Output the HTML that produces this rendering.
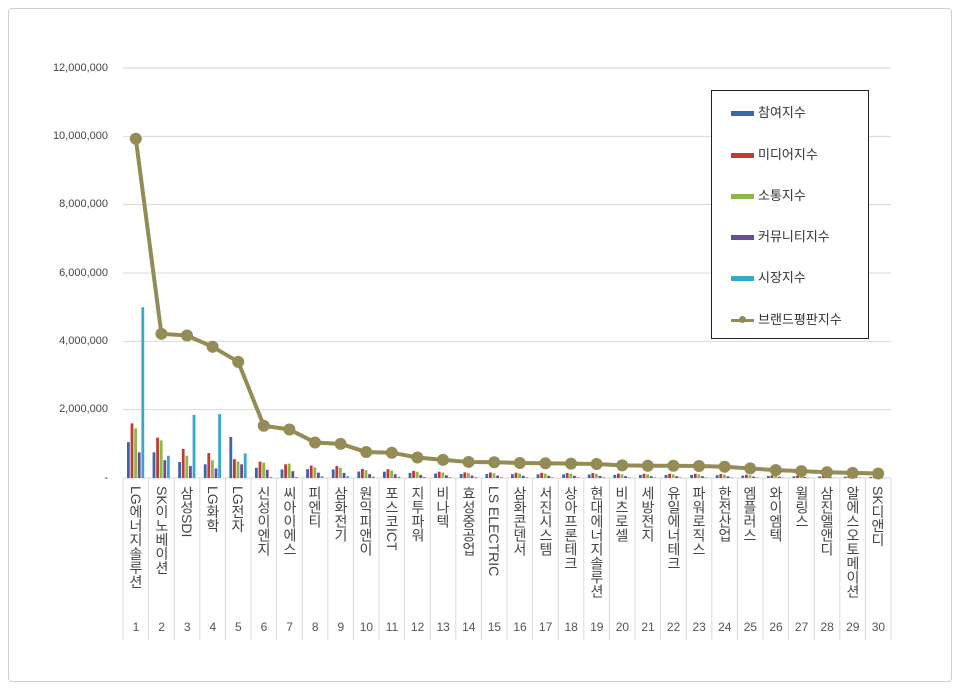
<!DOCTYPE html>
<html><head><meta charset="utf-8">
<style>
body{margin:0;background:#fff;width:960px;height:690px;overflow:hidden;font-family:"Liberation Sans","Noto Sans CJK KR",sans-serif;}
#frame{position:absolute;left:8px;top:8px;width:942px;height:672px;border:1px solid #d0d0d0;border-radius:4px;}
.yl{position:absolute;right:852px;font-size:11px;color:#444;text-align:right;}
.xl{position:absolute;top:486px;writing-mode:vertical-rl;text-orientation:mixed;font-size:14px;color:#444;width:26px;line-height:26px;white-space:nowrap;}
.xn{position:absolute;top:620px;width:26px;text-align:center;font-size:12px;color:#555;}
#leg{position:absolute;left:711px;top:90px;width:156px;height:247px;border:1px solid #222;background:#fff;}
.le{position:absolute;left:19px;font-size:13px;color:#333;}
.sw{display:inline-block;width:23px;height:5px;vertical-align:middle;margin-right:4px;}
.dot{position:absolute;left:8px;top:-3px;width:7px;height:7px;border-radius:50%;background:#948b55;}
</style></head><body>
<div id="frame"></div>
<svg id="g" width="960" height="690" style="position:absolute;left:0;top:0"></svg>
<div class="yl" style="top:62px">12,000,000</div>
<div class="yl" style="top:130px">10,000,000</div>
<div class="yl" style="top:198px">8,000,000</div>
<div class="yl" style="top:267px">6,000,000</div>
<div class="yl" style="top:335px">4,000,000</div>
<div class="yl" style="top:403px">2,000,000</div>
<div class="yl" style="top:472px">-</div>
<div class="xl" style="left:123px">LG에너지솔루션</div>
<div class="xl" style="left:149px">SK이노베이션</div>
<div class="xl" style="left:174px">삼성SDI</div>
<div class="xl" style="left:200px">LG화학</div>
<div class="xl" style="left:225px">LG전자</div>
<div class="xl" style="left:251px">신성이엔지</div>
<div class="xl" style="left:277px">씨아이에스</div>
<div class="xl" style="left:302px">피엔티</div>
<div class="xl" style="left:328px">삼화전기</div>
<div class="xl" style="left:353px">원익피앤이</div>
<div class="xl" style="left:379px">포스코ICT</div>
<div class="xl" style="left:405px">지투파워</div>
<div class="xl" style="left:430px">비나텍</div>
<div class="xl" style="left:456px">효성중공업</div>
<div class="xl" style="left:481px">LS ELECTRIC</div>
<div class="xl" style="left:507px">삼화콘덴서</div>
<div class="xl" style="left:533px">서진시스템</div>
<div class="xl" style="left:558px">상아프론테크</div>
<div class="xl" style="left:584px">현대에너지솔루션</div>
<div class="xl" style="left:609px">비츠로셀</div>
<div class="xl" style="left:635px">세방전지</div>
<div class="xl" style="left:661px">유일에너테크</div>
<div class="xl" style="left:686px">파워로직스</div>
<div class="xl" style="left:712px">한전산업</div>
<div class="xl" style="left:737px">엠플러스</div>
<div class="xl" style="left:763px">와이엠텍</div>
<div class="xl" style="left:789px">윌링스</div>
<div class="xl" style="left:814px">삼진엘앤디</div>
<div class="xl" style="left:840px">알에스오토메이션</div>
<div class="xl" style="left:865px">SK디앤디</div>
<div id="nums"></div>
<div id="leg">
<div class="le" style="top:11px"><span class="sw" style="background:#3a66b0"></span>참여지수</div>
<div class="le" style="top:53px"><span class="sw" style="background:#c03a36"></span>미디어지수</div>
<div class="le" style="top:94px"><span class="sw" style="background:#8eb648"></span>소통지수</div>
<div class="le" style="top:135px"><span class="sw" style="background:#6b4a9a"></span>커뮤니티지수</div>
<div class="le" style="top:176px"><span class="sw" style="background:#33aac8"></span>시장지수</div>
<div class="le" style="top:218px"><span class="sw" style="background:#948b55;height:3px;position:relative"><span class="dot"></span></span>브랜드평판지수</div>
</div>
<script>
var L=123,W=25.6,Y0=478,S=410/12e6;
var ns='http://www.w3.org/2000/svg',g=document.getElementById('g');
function el(t,a){var e=document.createElementNS(ns,t);for(var k in a)e.setAttribute(k,a[k]);g.appendChild(e);return e;}
for(var i=1;i<=6;i++){var y=Y0-i*2e6*S;el('line',{x1:L,x2:891,y1:y,y2:y,stroke:'#d9d9d9'});}
el('line',{x1:L,x2:891,y1:Y0,y2:Y0,stroke:'#d9d9d9'});
for(var i=0;i<=30;i++){var x=L+i*W;el('line',{x1:x,x2:x,y1:Y0,y2:640,stroke:'#d9d9d9'});}
var line=[9.93,4.22,4.17,3.84,3.4,1.53,1.42,1.04,1.0,0.76,0.74,0.6,0.53,0.47,0.46,0.44,0.43,0.42,0.41,0.37,0.36,0.36,0.35,0.33,0.28,0.23,0.2,0.17,0.15,0.13];
var bars=[[1.05,1.6,1.45,0.75,5.0],[0.75,1.18,1.1,0.52,0.65],[0.47,0.85,0.65,0.35,1.85],[0.4,0.73,0.52,0.28,1.87],[1.2,0.55,0.48,0.4,0.72],[0.3,0.48,0.45,0.24,0.03],[0.25,0.4,0.42,0.2,0.03]];
var cols=['#3a66b0','#c03a36','#8eb648','#6b4a9a','#33aac8'];
for(var c=0;c<30;c++){var b=bars[c];if(!b){var v=line[c];b=[v*0.25,v*0.35,v*0.3,v*0.15,v*0.05];}
for(var k=0;k<5;k++){var h=b[k]*1e6*S;el('rect',{x:L+c*W+4+k*3.6,y:Y0-h,width:2.8,height:h,fill:cols[k]});}}
var pts=line.map(function(v,c){return (L+c*W+W/2)+','+(Y0-v*1e6*S);}).join(' ');
el('polyline',{points:pts,fill:'none',stroke:'#948b55','stroke-width':4,'stroke-linejoin':'round'});
line.forEach(function(v,c){el('circle',{cx:L+c*W+W/2,cy:Y0-v*1e6*S,r:6,fill:'#948b55'});});
var n='';for(var i=0;i<30;i++)n+='<div class="xn" style="left:'+(L+i*W)+'px">'+(i+1)+'</div>';
document.getElementById('nums').innerHTML=n;
</script>
</body></html>
